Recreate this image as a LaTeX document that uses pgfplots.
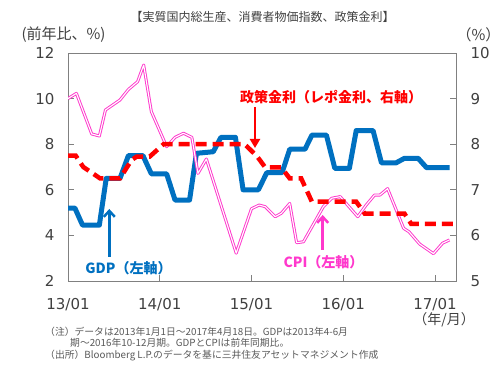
\documentclass[border=0pt]{standalone}
\usepackage{fontspec}
\setmainfont{Noto Sans CJK JP}
\newfontfamily\numfont{DejaVu Sans}
\usepackage{pgfplots}
\pgfplotsset{compat=1.18}
\usepackage{pgfplotstable}
\usetikzlibrary{arrows.meta}
\definecolor{gdpblue}{RGB}{0,112,192}
\definecolor{cpipink}{RGB}{255,56,204}
\definecolor{txtgray}{RGB}{64,64,64}
\definecolor{framegray}{RGB}{128,128,128}
\definecolor{notegray}{RGB}{89,89,89}

\pgfplotstableread{
m v
0 10.0
1.1 10.23
3.1 8.45
4.1 8.36
4.9 9.5
6.8 9.94
7.9 10.4
9.1 10.74
9.9 11.47
10.9 9.43
12.9 7.89
14 8.3
15.1 8.48
16.2 8.3
17 6.72
18.1 7.35
22 3.22
24 5.17
25 5.33
25.8 5.26
27.1 4.82
27.9 4.97
29 5.4
29.9 3.68
30.8 3.72
33.4 5.26
34.5 5.63
35.6 5.7
37.9 4.82
39 5.33
40.1 5.77
40.8 5.77
41.8 6.05
43.9 4.31
44.6 4.16
46 3.62
47.8 3.2
49 3.66
49.9 3.8
}\cpidata

\pgfplotstableread{
m v
0 5.2
0.9 5.2
1.9 4.45
4.1 4.45
5 6.5
6.8 6.5
7.9 7.5
9.8 7.5
10.9 6.7
12.9 6.7
14 5.55
15.9 5.55
16.8 7.6
19 7.67
20 8.3
21.9 8.3
22.9 6.0
24.9 6.0
26 6.75
28 6.75
29 7.78
31 7.78
31.9 8.4
33.8 8.4
34.9 6.94
36.8 6.94
37.7 8.6
39.9 8.6
41 7.18
42.9 7.18
44 7.38
45.8 7.38
46.9 6.97
49.9 6.97
}\gdpdata

\pgfplotstableread{
m v
0 7.75
1 7.75
2 7.5
4.2 7.25
6.8 7.25
8.3 7.65
9 7.73
10.7 7.73
12.5 8.0
23.1 8.0
24.7 7.74
25.1 7.65
25.8 7.49
27.9 7.49
29 7.25
30.5 7.25
31.9 6.74
37.7 6.74
38.8 6.48
44 6.48
44.9 6.25
50.8 6.25
}\repodata

\begin{document}
\begin{tikzpicture}
\useasboundingbox (0pt,0pt) rectangle (502pt,371pt);
\begin{axis}[
  at={(68pt,90pt)}, anchor=south west,
  scale only axis, width=388pt, height=228pt,
  xmin=0, xmax=50.75, ymin=2, ymax=12,
  xtick={0,12,24,36,48},
  xticklabels={13/01,14/01,15/01,16/01,17/01},
  ytick={2,4,6,8,10,12},
  xtick pos=bottom, ytick pos=left,
  tick align=inside,
  major tick length=6pt,
  tick style={framegray, line width=0.8pt},
  axis line style={framegray, line width=0.8pt},
  ticklabel style={font=\numfont\fontsize{15}{15}\selectfont, text=txtgray},
  /pgf/number format/assume math mode=true,
  xticklabel style={yshift=-14pt},
  yticklabel style={xshift=-10pt},
]
\addplot[gdpblue, line width=5pt, line join=round] table[x=m,y=v] {\gdpdata};
\addplot[cpipink, line width=3pt, line join=round] table[x=m,y=v] {\cpidata};
\addplot[white, line width=1.1pt, line join=round] table[x=m,y=v] {\cpidata};
\end{axis}
\begin{axis}[
  at={(68pt,90pt)}, anchor=south west,
  scale only axis, width=388pt, height=228pt,
  xmin=0, xmax=50.75, ymin=5, ymax=10,
  axis x line=none,
  axis y line*=right,
  ytick={5,6,7,8,9,10},
  ytick pos=right,
  tick align=inside,
  major tick length=6pt,
  tick style={framegray, line width=0.8pt},
  axis line style={framegray, line width=0.8pt},
  ticklabel style={font=\numfont\fontsize{15}{15}\selectfont, text=txtgray},
  /pgf/number format/assume math mode=true,
  yticklabel style={xshift=11pt},
]
\addplot[red, line width=4.5pt, dash pattern=on 11pt off 6pt] table[x=m,y=v] {\repodata};
\end{axis}
% titles
\node[font=\fontsize{12}{12}\selectfont, text=txtgray] at (262.5pt,354pt) {【実質国内総生産、消費者物価指数、政策金利】};
\node[font=\fontsize{15}{15}\selectfont, text=txtgray] at (63.5pt,336pt) {(前年比、\%)};
\node[font=\fontsize{15}{15}\selectfont, text=txtgray] at (478.5pt,336pt) {（\%）};
\node[font=\fontsize{14}{14}\selectfont, text=txtgray] at (444pt,51pt) {（年/月）};
% notes
\node[font=\fontsize{9.8}{9.8}\selectfont, text=notegray, anchor=west, inner sep=0pt] at (45pt,39.3pt) {（注）データは2013年1月1日～2017年4月18日。GDPは2013年4-6月};
\node[font=\fontsize{9.8}{9.8}\selectfont, text=notegray, anchor=west, inner sep=0pt] at (70pt,28.7pt) {期～2016年10-12月期。GDPとCPIは前年同期比。};
\node[font=\fontsize{9.8}{9.8}\selectfont, text=notegray, anchor=west, inner sep=0pt] at (45pt,15pt) {（出所）Bloomberg L.P.のデータを基に三井住友アセットマネジメント作成};
% annotations
\node[font=\bfseries\fontsize{14}{14}\selectfont, text=red, anchor=west, inner sep=0pt] at (240pt,274pt) {政策金利（レポ金利、右軸）};
\draw[red, line width=2.5pt, -{Triangle[length=9pt,width=10pt]}] (255pt,264pt) -- (255pt,223pt);
\node[font=\bfseries\fontsize{14}{14}\selectfont, text=gdpblue] at (128.5pt,103pt) {GDP（左軸）};
\draw[gdpblue, line width=2.5pt, -{Straight Barb[length=6pt,width=11pt]}] (109.3pt,114pt) -- (109.3pt,162pt);
\node[font=\bfseries\fontsize{14}{14}\selectfont, text=cpipink] at (323.5pt,109.3pt) {CPI（左軸）};
\draw[cpipink, line width=2.5pt, -{Straight Barb[length=6pt,width=11pt]}] (322.7pt,121pt) -- (322.7pt,156pt);
\end{tikzpicture}
\end{document}
